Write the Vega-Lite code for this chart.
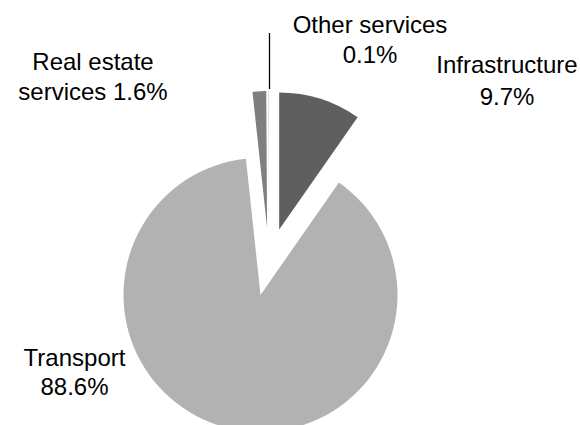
{
  "$schema": "https://vega.github.io/schema/vega-lite/v6.json",
  "width": 538,
  "height": 326,
  "autosize": {"type": "none"},
  "padding": {"left": 0, "top": 99, "right": 42, "bottom": 0},
  "background": "white",
  "config": {"view": {"stroke": null}},
  "data": {
    "values": [
      {"category": "Infrastructure", "value": 9.7, "label": "Infrastructure\n9.7%"},
      {"category": "Transport", "value": 88.6, "label": "Transport\n88.6%"},
      {"category": "Real estate services", "value": 1.6, "label": "Real estate\nservices 1.6%"},
      {"category": "Other services", "value": 0.1, "label": "Other services\n0.1%"}
    ]
  },
  "transform": [{"stack": "value", "groupby": [], "as": ["v0", "v1"]}],
  "layer": [
    {
      "transform": [{"filter": "datum.category === 'Infrastructure'"}],
      "mark": {"type": "arc", "radius": 137, "xOffset": 10.2, "yOffset": -32.4},
      "encoding": {
        "theta": {"field": "v0", "type": "quantitative", "scale": {"domain": [0, 100], "range": [0, 6.283185307179586]}},
        "theta2": {"field": "v1"},
        "color": {"field": "category", "type": "nominal", "legend": null,
          "scale": {"domain": ["Infrastructure", "Transport", "Real estate services", "Other services"], "range": ["#5f5f5f", "#b2b2b2", "#7f7f7f", "#d9d9d9"]}}
      }
    },
    {
      "transform": [{"filter": "datum.category === 'Transport'"}],
      "mark": {"type": "arc", "radius": 137, "xOffset": -8.5, "yOffset": 32.9},
      "encoding": {
        "theta": {"field": "v0", "type": "quantitative"},
        "theta2": {"field": "v1"},
        "color": {"field": "category", "type": "nominal", "legend": null}
      }
    },
    {
      "transform": [{"filter": "datum.category === 'Real estate services'"}],
      "mark": {"type": "arc", "radius": 137, "xOffset": -1.9, "yOffset": -33.9},
      "encoding": {
        "theta": {"field": "v0", "type": "quantitative"},
        "theta2": {"field": "v1"},
        "color": {"field": "category", "type": "nominal", "legend": null}
      }
    },
    {
      "transform": [{"filter": "datum.category === 'Other services'"}],
      "mark": {"type": "arc", "radius": 137, "xOffset": -0.1, "yOffset": -34},
      "encoding": {
        "theta": {"field": "v0", "type": "quantitative"},
        "theta2": {"field": "v1"},
        "color": {"field": "category", "type": "nominal", "legend": null}
      }
    },
    {
      "transform": [{"filter": "datum.category === 'Other services'"}],
      "mark": {"type": "arc", "innerRadius": 139, "radius": 195, "xOffset": 0.5, "yOffset": -34, "filled": false, "stroke": "black", "strokeWidth": 1.3},
      "encoding": {
        "theta": {"field": "v1", "type": "quantitative"},
        "theta2": {"field": "v1"}
      }
    },
    {
      "transform": [{"filter": "datum.category === 'Infrastructure'"}],
      "mark": {"type": "text", "align": "center", "baseline": "alphabetic", "dx": 238, "dy": -188.7, "fontSize": 24, "font": "Liberation Sans", "lineBreak": "\n", "lineHeight": 32, "color": "black"},
      "encoding": {"text": {"field": "label"}}
    },
    {
      "transform": [{"filter": "datum.category === 'Transport'"}],
      "mark": {"type": "text", "align": "center", "baseline": "alphabetic", "dx": -194.5, "dy": 103.7, "fontSize": 24, "font": "Liberation Sans", "lineBreak": "\n", "lineHeight": 29.5, "color": "black"},
      "encoding": {"text": {"field": "label"}}
    },
    {
      "transform": [{"filter": "datum.category === 'Real estate services'"}],
      "mark": {"type": "text", "align": "center", "baseline": "alphabetic", "dx": -176, "dy": -192, "fontSize": 24, "font": "Liberation Sans", "lineBreak": "\n", "lineHeight": 30, "color": "black"},
      "encoding": {"text": {"field": "label"}}
    },
    {
      "transform": [{"filter": "datum.category === 'Other services'"}],
      "mark": {"type": "text", "align": "center", "baseline": "alphabetic", "dx": 101, "dy": -228.7, "fontSize": 24, "font": "Liberation Sans", "lineBreak": "\n", "lineHeight": 29.5, "color": "black"},
      "encoding": {"text": {"field": "label"}}
    }
  ]
}
